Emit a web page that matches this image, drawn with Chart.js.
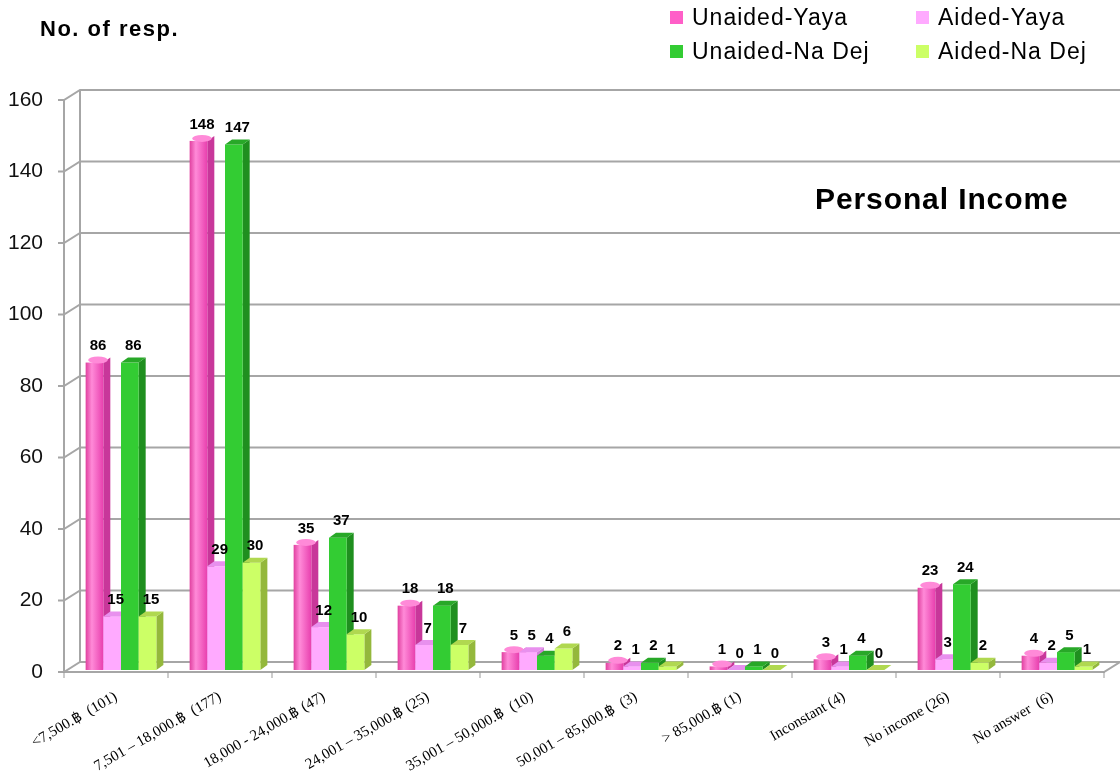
<!DOCTYPE html>
<html>
<head>
<meta charset="utf-8">
<script src="https://cdn.jsdelivr.net/npm/chart.js@4"></script>
<style>
  html, body { margin: 0; padding: 0; background: #fff; }
  #wrap { position: relative; width: 1120px; height: 783px; }
  .txt { position: absolute; font-family: Arial, "Liberation Sans", sans-serif; color: #000; white-space: nowrap; }
  .legend { position: absolute; left: 670px; top: 4px; font-family: Arial, "Liberation Sans", sans-serif; font-size: 23px; letter-spacing: 1px; }
  .legend .item { position: absolute; white-space: nowrap; }
  .legend .sw { display: inline-block; width: 13px; height: 13px; margin-right: 9px; vertical-align: 1px; }
</style>
</head>
<body>
<div id="wrap">
  <canvas id="chart" width="1120" height="783"></canvas>
  <div class="txt" style="left:40px; top:16px; font-size:22px; font-weight:bold; letter-spacing:1.5px;">No. of resp.</div>
  <div class="txt" style="left:815px; top:182px; font-size:30px; font-weight:bold; letter-spacing:0.9px;">Personal Income</div>
  <div class="legend" id="legend"></div>
</div>
<script>
// income groups (respondent count in brackets)
const categories = [
    "<7,500.฿  (101)",
    "7,501 – 18,000.฿  (177)",
    "18,000 - 24,000.฿ (47)",
    "24,001 – 35,000.฿ (25)",
    "35,001 – 50,000.฿  (10)",
    "50,001 – 85,000.฿  (3)",
    "> 85,000.฿ (1)",
    "Inconstant (4)",
    "No income (26)",
    "No answer  (6)",
];

const unaidedYaya = [86, 148, 35, 18, 5, 2, 1, 3, 23, 4];
const aidedYaya = [15, 29, 12, 7, 5, 1, 0, 1, 3, 2];
const unaidedNaDej = [86, 147, 37, 18, 4, 2, 1, 4, 24, 5];
const aidedNaDej = [15, 30, 10, 7, 6, 1, 0, 0, 2, 1];

const yTicks = [0, 20, 40, 60, 80, 100, 120, 140, 160];

const seriesNames = ["Unaided-Yaya", "Aided-Yaya", "Unaided-Na Dej", "Aided-Na Dej"];
const seriesColors = ["#ff5fc8", "#ffaaff", "#33cc33", "#ccff66"];
const sideColors = ["#c8379a", "#d080d8", "#1f8f1f", "#94b83c"];
const topColors = ["#ff8ad8", "#e890ee", "#28a828", "#b0d850"];

// legend in two rows, two columns
const legendEl = document.getElementById("legend");
const legendPos = [[0, 0], [246, 0], [0, 34], [246, 34]];
seriesNames.forEach((name, i) => {
    const item = document.createElement("div");
    item.className = "item";
    item.style.left = legendPos[i][0] + "px";
    item.style.top = legendPos[i][1] + "px";
    item.innerHTML = '<span class="sw" style="background:' + seriesColors[i] + '"></span>' + name;
    legendEl.appendChild(item);
});

const DEPTH_X = 16, DEPTH_Y = 10;   // wall offset
const BAR_DX = 7, BAR_DY = 5;       // bar extrusion
const BAR_SHIFT_X = 5, BAR_SHIFT_Y = 2; // bars stand a little into the floor

// back walls, gridlines and floor, then extruded bars
const frame3d = {
    id: "frame3d",
    beforeDatasetsDraw(chart) {
        const ctx = chart.ctx;
        const y = chart.scales.y;
        const left = chart.chartArea.left, right = chart.chartArea.right;
        ctx.save();
        ctx.strokeStyle = "#a6a6a6";
        ctx.lineWidth = 2;
        yTicks.forEach((v) => {
            const py = y.getPixelForValue(v);
            ctx.beginPath();
            ctx.moveTo(left - 6, py);
            ctx.lineTo(left, py);
            ctx.lineTo(left + DEPTH_X, py - DEPTH_Y);
            ctx.lineTo(right + DEPTH_X, py - DEPTH_Y);
            ctx.stroke();
        });
        const top = y.getPixelForValue(160), base = y.getPixelForValue(0);
        ctx.beginPath();
        ctx.moveTo(left, top);
        ctx.lineTo(left, base);
        ctx.lineTo(right, base);
        ctx.lineTo(right + DEPTH_X, base - DEPTH_Y);
        ctx.stroke();
        ctx.beginPath();
        ctx.moveTo(left + DEPTH_X, top - DEPTH_Y);
        ctx.lineTo(left + DEPTH_X, base - DEPTH_Y);
        ctx.stroke();
        // category tick marks
        ctx.lineWidth = 1;
        ctx.strokeStyle = "#999";
        for (let i = 0; i <= categories.length; i++) {
            const px = left + (right - left) * i / categories.length;
            ctx.beginPath();
            ctx.moveTo(px, base);
            ctx.lineTo(px, base + 6);
            ctx.stroke();
        }
        ctx.restore();
    },
    afterDatasetsDraw(chart) {
        const ctx = chart.ctx;
        const metas = chart.data.datasets.map((_, i) => chart.getDatasetMeta(i));
        ctx.save();
        for (let c = 0; c < categories.length; c++) {
            metas.forEach((meta, d) => {
                const bar = meta.data[c];
                const w = bar.width;
                const cx = bar.x + BAR_SHIFT_X;
                const l = cx - w / 2, r = cx + w / 2;
                const t = bar.y - BAR_SHIFT_Y, b = bar.base - BAR_SHIFT_Y;
                // side face
                ctx.fillStyle = sideColors[d];
                ctx.beginPath();
                ctx.moveTo(r, t);
                ctx.lineTo(r + BAR_DX, t - BAR_DY);
                ctx.lineTo(r + BAR_DX, b - BAR_DY);
                ctx.lineTo(r, b);
                ctx.closePath();
                ctx.fill();
                // front face
                if (d === 0) {
                    const g = ctx.createLinearGradient(l, 0, r, 0);
                    g.addColorStop(0, "#e0409f");
                    g.addColorStop(0.35, "#ff8ad8");
                    g.addColorStop(1, "#e83fae");
                    ctx.fillStyle = g;
                } else {
                    ctx.fillStyle = seriesColors[d];
                }
                ctx.fillRect(l, t, w, b - t);
                // top face
                ctx.fillStyle = topColors[d];
                ctx.beginPath();
                if (d === 0) {
                    ctx.ellipse(cx + BAR_DX / 2, t - BAR_DY / 2, w / 2 + 1, BAR_DY / 2 + 1, 0, 0, Math.PI * 2);
                } else {
                    ctx.moveTo(l, t);
                    ctx.lineTo(l + BAR_DX, t - BAR_DY);
                    ctx.lineTo(r + BAR_DX, t - BAR_DY);
                    ctx.lineTo(r, t);
                    ctx.closePath();
                }
                ctx.fill();
            });
        }
        // value labels
        ctx.fillStyle = "#000";
        ctx.font = "bold 15px Arial, 'Liberation Sans', sans-serif";
        ctx.textAlign = "center";
        ctx.textBaseline = "bottom";
        metas.forEach((meta, d) => {
            meta.data.forEach((bar, c) => {
                const v = chart.data.datasets[d].data[c];
                ctx.fillText(String(v), bar.x + BAR_SHIFT_X + BAR_DX / 2, bar.y - BAR_SHIFT_Y - BAR_DY - 4);
            });
        });
        ctx.restore();
    },
};

// the library lays the bars out; the plugin paints them with depth
const datasets = [unaidedYaya, aidedYaya, unaidedNaDej, aidedNaDej].map((vals, i) => ({
    label: seriesNames[i],
    data: vals,
    backgroundColor: "rgba(0,0,0,0)",
    borderWidth: 0,
    categoryPercentage: 0.68,
    barPercentage: 1.0,
}));

new Chart(document.getElementById("chart"), {
    type: "bar",
    data: { labels: categories, datasets: datasets },
    plugins: [frame3d],
    options: {
        responsive: false,
        animation: false,
        layout: { padding: { top: 100, right: 16, left: 0, bottom: 0 } },
        plugins: {
            legend: { display: false },
            tooltip: { enabled: false },
        },
        scales: {
            x: {
                grid: { display: false },
                border: { display: false },
                ticks: {
                    autoSkip: false,
                    minRotation: 30,
                    maxRotation: 30,
                    padding: 8,
                    color: "#000",
                    font: { family: "'Liberation Serif', 'Times New Roman', serif", size: 15 },
                },
                afterFit(scale) { scale.height = 111; },
            },
            y: {
                min: 0,
                max: 160,
                afterBuildTicks(scale) { scale.ticks = yTicks.map((v) => ({ value: v })); },
                grid: { display: false },
                border: { display: false },
                ticks: {
                    padding: 13,
                    color: "#111",
                    font: { family: "Arial, 'Liberation Sans', sans-serif", size: 21 },
                },
                afterFit(scale) { scale.width = 64; },
            },
        },
    },
});
</script>
</body>
</html>
